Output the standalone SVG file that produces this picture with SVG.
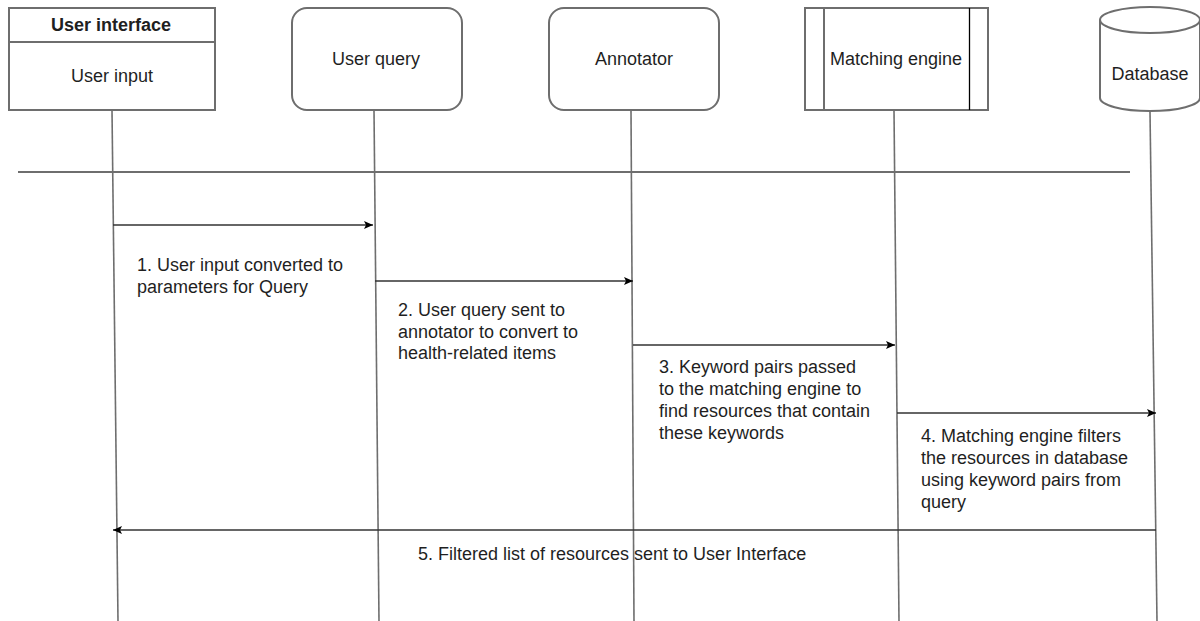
<svg xmlns="http://www.w3.org/2000/svg" width="1200" height="621" viewBox="0 0 1200 621">
<style>
.box{fill:#fff;stroke:#6e6e6e;stroke-width:2}
.ln{stroke:#6e6e6e;stroke-width:2;fill:none}
.life{stroke:#6e6e6e;stroke-width:1.6;fill:none}
.msg{stroke:#333;stroke-width:1.3;fill:none}
text{font-family:"Liberation Sans",Arial,sans-serif;font-size:18px;fill:#1f1f1f}
.c{text-anchor:middle}
.b{font-weight:bold}
</style>
<defs>
<marker id="ah" markerWidth="10" markerHeight="10" refX="9" refY="5" orient="auto" markerUnits="userSpaceOnUse">
<path d="M0,1 L9,5 L0,9 L2,5 Z" fill="#000"/>
</marker>
</defs>
<rect width="1200" height="621" fill="#fff"/>
<g id="lifelines">
<line class="life" x1="112" y1="110" x2="118" y2="621"/>
<line class="life" x1="374" y1="110" x2="379" y2="621"/>
<line class="life" x1="631" y1="110" x2="634" y2="621"/>
<line class="life" x1="894" y1="110" x2="899" y2="621"/>
<line class="life" x1="1150" y1="112" x2="1157" y2="621"/>
</g>
<g id="separator">
<line class="ln" x1="18" y1="172" x2="1130" y2="172"/>
</g>
<g id="user-interface">
<rect class="box" x="9" y="8" width="206" height="102"/>
<line class="ln" x1="9" y1="42" x2="215" y2="42"/>
<text class="c b" x="111" y="31">User interface</text>
<text class="c" x="112" y="82">User input</text>
</g>
<g id="user-query">
<rect class="box" x="292" y="8" width="170" height="102" rx="15"/>
<text class="c" x="376" y="65">User query</text>
</g>
<g id="annotator">
<rect class="box" x="549" y="8" width="170" height="102" rx="15"/>
<text class="c" x="634" y="65">Annotator</text>
</g>
<g id="matching-engine">
<rect class="box" x="805" y="8" width="183" height="102"/>
<line class="ln" x1="824" y1="8" x2="824" y2="110"/>
<line x1="969.5" y1="8" x2="969.5" y2="110" stroke="#000" stroke-width="1.3"/>
<text class="c" x="896" y="65">Matching engine</text>
</g>
<g id="database">
<path class="box" d="M1100,20 A50,13 0 0 1 1200,20 L1200,98 A50,13 0 0 1 1100,98 Z"/>
<path class="ln" d="M1100,20 A50,13 0 0 0 1200,20"/>
<text class="c" x="1150" y="80">Database</text>
</g>
<g id="connectors">
<line class="msg" x1="113" y1="225" x2="373" y2="225" marker-end="url(#ah)"/>
<line class="msg" x1="375" y1="281" x2="633" y2="281" marker-end="url(#ah)"/>
<line class="msg" x1="633" y1="345" x2="895" y2="345" marker-end="url(#ah)"/>
<line class="msg" x1="897" y1="413" x2="1156" y2="413" marker-end="url(#ah)"/>
<line class="msg" x1="1156" y1="530" x2="113" y2="530" marker-end="url(#ah)"/>
</g>
<g id="labels">
<text x="137" y="271">1. User input converted to</text>
<text x="137" y="293">parameters for Query</text>
<text x="398" y="316">2. User query sent to</text>
<text x="398" y="338">annotator to convert to</text>
<text x="398" y="359">health-related items</text>
<text x="659" y="373">3. Keyword pairs passed</text>
<text x="659" y="395">to the matching engine to</text>
<text x="659" y="417">find resources that contain</text>
<text x="659" y="439">these keywords</text>
<text x="921" y="442">4. Matching engine filters</text>
<text x="921" y="464">the resources in database</text>
<text x="921" y="486">using keyword pairs from</text>
<text x="921" y="508">query</text>
<text x="418" y="560">5. Filtered list of resources sent to User Interface</text>
</g>
</svg>
